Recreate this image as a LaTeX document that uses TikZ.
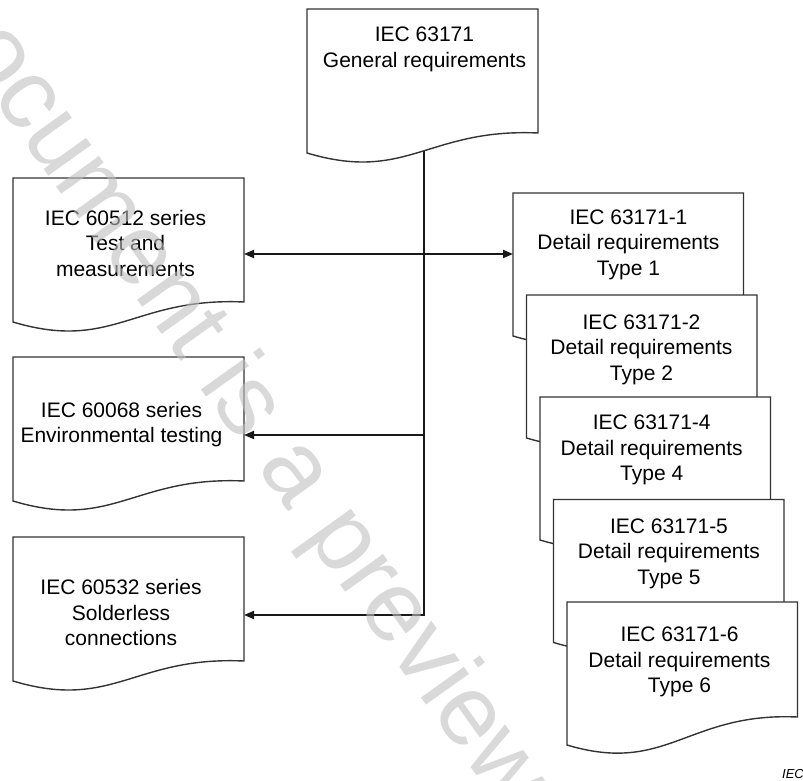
\documentclass[tikz,border=0pt]{standalone}
\usepackage{fontspec}
\setmainfont{Liberation Sans}
\usetikzlibrary{arrows.meta}
\pgfdeclarelayer{bg}
\pgfsetlayers{bg,main}
\tikzset{
  docline/.style={draw=black!80, line width=1.4pt, fill=white, line join=miter},
  boxnode/.style={draw=none, inner sep=0pt, outer sep=0pt, anchor=north west},
  boxtext/.style={font=\fontsize{21}{25.5}\selectfont, align=center, inner sep=0pt},
  conn/.style={draw=black!90, line width=1.8pt},
  arrtip/.style={-{Triangle[length=10pt,width=8pt]}},
  arrboth/.style={{Triangle[length=10pt,width=8pt]}-{Triangle[length=10pt,width=8pt]}},
  wmark/.style={text=black!25, text opacity=0.6, rotate=-54.5, inner sep=0pt,
    font=\fontsize{100}{100}\selectfont},
}
% name, L, T, W, right drop, left drop, text x, text y, text
\newcommand{\docbox}[9]{%
  \begin{scope}[shift={(#2,#3)}]
    \path[docline] (0,0) -- (#4,0) -- (#4,#5)
      .. controls ({#4-110},{#5-5}) and (100,{#6+30}) .. (0,#6) -- cycle;
    \node[boxnode, minimum width=#4pt, minimum height=#6pt] (#1) at (0,0) {};
  \end{scope}
  \node[boxtext] (#1-t) at (#7,#8) {#9};
}
\begin{document}
\begin{tikzpicture}[x=1pt,y=-1pt]
\useasboundingbox (0,0) rectangle (803,781);
\clip (0,0) rectangle (803,781);

\docbox{top}{307}{9}{231}{124}{144}{424.5}{49.5}{IEC 63171\\General requirements}

\docbox{left1}{13}{178}{231}{124}{144}{125.5}{243}{IEC 60512 series\\Test and\\measurements}
\docbox{left2}{13}{357}{231}{124}{144}{121.5}{424.7}{IEC 60068 series\\Environmental testing}
\docbox{left3}{13}{537}{231}{124}{144}{121}{612.5}{IEC 60532 series\\Solderless\\connections}

\docbox{right1}{513}{193}{230.5}{115}{143}{628.5}{244.7}{IEC 63171-1\\Detail requirements\\Type 1}
\docbox{right2}{526.5}{295}{230.5}{115}{143}{641.5}{349.4}{IEC 63171-2\\Detail requirements\\Type 2}
\docbox{right3}{540}{397}{230.5}{115}{143}{651.7}{449.9}{IEC 63171-4\\Detail requirements\\Type 4}
\docbox{right4}{553.5}{499.5}{230.5}{115}{143}{669}{553.7}{IEC 63171-5\\Detail requirements\\Type 5}
\docbox{right5}{567}{602}{230.5}{115}{143}{679.5}{662.2}{IEC 63171-6\\Detail requirements\\Type 6}

\coordinate (j1) at (424,254);
\coordinate (j2) at (424,435);
\coordinate (j3) at (424,615);

\begin{pgfonlayer}{bg}
  \draw[conn,arrtip] (j3 |- top.center) -- (j3) -- (left3.east |- j3);
  \draw[conn,arrtip] (j2) -- (left2.east |- j2);
  \draw[conn,arrboth] (left1.east |- j1) -- (right1.west |- j1);
\end{pgfonlayer}

\node[anchor=base west, inner sep=0pt, font=\fontsize{13}{13}\selectfont\itshape] (iec) at (782,778) {IEC};

\node[wmark] (wm) at (232,388) {Document is a preview};
\end{tikzpicture}
\end{document}
